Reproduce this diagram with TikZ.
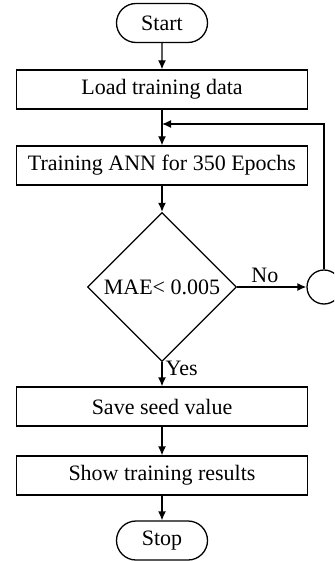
\documentclass[tikz,border=0pt]{standalone}
\usepackage{fontspec}
\setmainfont{Liberation Serif}
\usetikzlibrary{positioning,shapes.geometric,shapes.misc,arrows.meta}

\begin{document}
\begin{tikzpicture}[
        %Environment config
        x=1pt,y=1pt,
        font=\fontsize{22}{26}\selectfont,
        line width=1.3pt,
        >={Latex[length=9pt,width=8pt]},
        %Environment styles
        TermCfg/.style={
            rounded rectangle,
            draw,
            minimum width=91pt,
            minimum height=39pt,
            inner sep=0pt
        },
        StepCfg/.style={draw, minimum width=291pt, minimum height=39pt, inner sep=0pt},
        TestCfg/.style={diamond, draw, minimum size=149pt, inner sep=0pt},
        JoinCfg/.style={circle, draw, minimum size=34pt, inner sep=0pt}
    ]
    \clip (0,0) rectangle (334,-561);
    \path
        (162,-23) node[TermCfg](Start){Start}
        (162,-89.5) node[StepCfg](Load){Load training data}
        (162,-165.5) node[StepCfg](Train){Training ANN for 350 Epochs}
        (162,-287) node[TestCfg](Test){MAE< 0.005}
        (324,-287) node[JoinCfg](Join){}
        (162,-406.5) node[StepCfg](Save){Save seed value}
        (162,-475.5) node[StepCfg](Show){Show training results}
        (162,-540.5) node[TermCfg](Stop){Stop}
        (162,-124) coordinate (Merge);

    \draw[->] (Start) -- (Load);
    \draw (Load) -- (Merge);
    \draw[->] (Merge) -- (Train);
    \draw[->] (Train) -- (Test);
    \draw[->] (Test) -- node[pos=0.4,above]{No} (Join);
    \draw[->] (Join) |- (Merge);
    \draw[->] (Test) -- node[pos=0.25,right,inner sep=3pt]{Yes} (Save);
    \draw[->] (Save) -- (Show);
    \draw[->] (Show) -- (Stop);
\end{tikzpicture}
\end{document}
